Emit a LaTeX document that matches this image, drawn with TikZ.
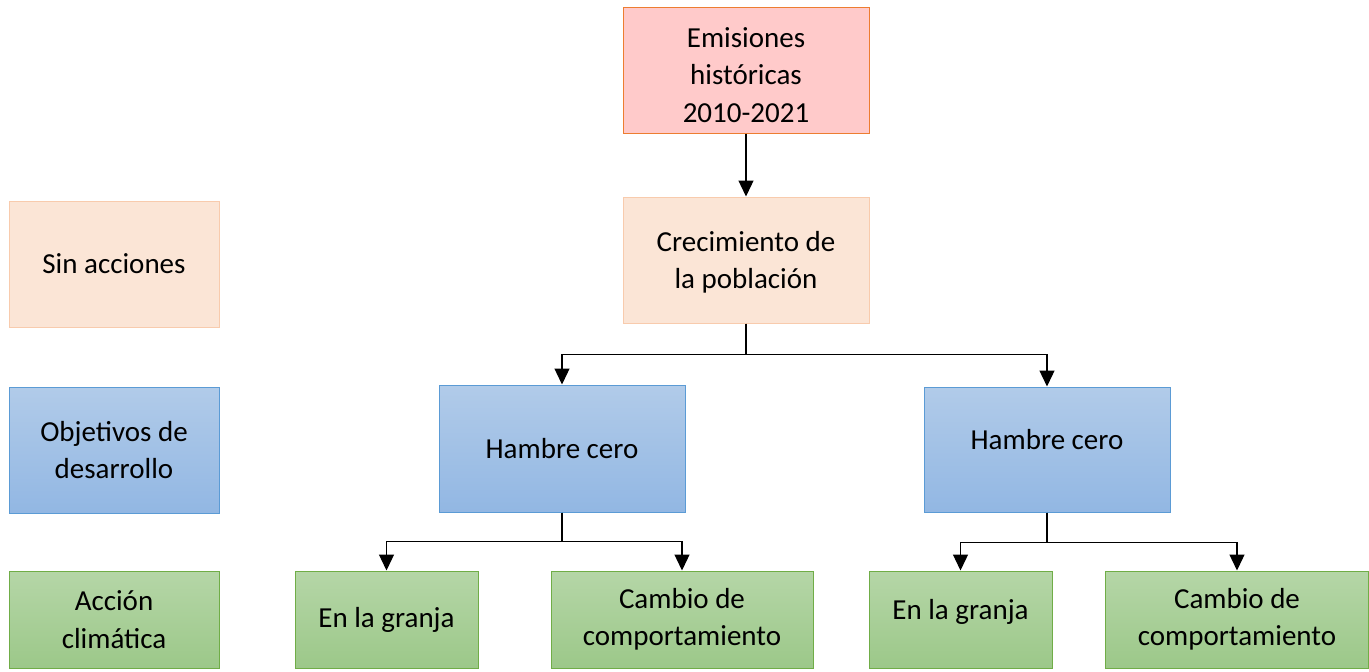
\documentclass[tikz,border=0pt]{standalone}
\usepackage{fontspec}
\setmainfont{Carlito}
\usetikzlibrary{arrows.meta}
\definecolor{pinkfill}{HTML}{FFCACA}
\definecolor{pinkline}{HTML}{ED7D31}
\definecolor{peachfill}{HTML}{FBE5D6}
\definecolor{peachline}{HTML}{F8CBAD}
\definecolor{bluetop}{HTML}{B1CBE9}
\definecolor{bluebot}{HTML}{92B7E3}
\definecolor{blueline}{HTML}{5B9BD5}
\definecolor{greentop}{HTML}{B5D6A7}
\definecolor{greenbot}{HTML}{9CC889}
\definecolor{greenline}{HTML}{70AD47}
\tikzset{
  box/.style={rectangle, inner sep=0pt, align=center, line width=1pt,
    font=\fontsize{29}{37.5}\selectfont, text=black},
  redbox/.style={box, fill=pinkfill, draw=pinkline},
  peachbox/.style={box, fill=peachfill, draw=peachline},
  bluebox/.style={box, top color=bluetop, bottom color=bluebot, draw=blueline},
  greenbox/.style={box, top color=greentop, bottom color=greenbot, draw=greenline},
  arr/.style={line width=1.3pt, -{Triangle[width=15pt,length=16pt]}},
  raised/.style={text height=21pt, text depth=22pt}
}
\begin{document}
\begin{tikzpicture}[x=1pt,y=-1pt]
\useasboundingbox (0,0) rectangle (1369,672);
\node[redbox, text height=105pt, minimum width=246pt, minimum height=126pt] (emis) at (746,70) {Emisiones\\históricas\\2010-2021};
\node[peachbox, text height=62pt, minimum width=246pt, minimum height=126pt] (crec) at (746,260) {Crecimiento de\\la población};
\node[peachbox, minimum width=210pt, minimum height=126pt] (sin) at (114,264) {Sin acciones};
\node[bluebox, minimum width=210pt, minimum height=126pt] (obj) at (114,450) {Objetivos de\\desarrollo};
\node[greenbox, minimum width=210pt, minimum height=97pt] (acc) at (114,619.5) {Acción\\climática};
\node[bluebox, minimum width=246pt, minimum height=127pt] (h1) at (562,448.5) {Hambre cero};
\node[bluebox, raised, minimum width=246pt, minimum height=125pt] (h2) at (1047,449.5) {Hambre cero};
\node[greenbox, minimum width=183pt, minimum height=97pt] (g1) at (386.5,619.5) {En la granja};
\node[greenbox, minimum width=262pt, minimum height=97pt] (c1) at (682,619.5) {Cambio de\\comportamiento};
\node[greenbox, raised, minimum width=183pt, minimum height=97pt] (g2) at (960.5,619.5) {En la granja};
\node[greenbox, minimum width=263pt, minimum height=97pt] (c2) at (1237,619.5) {Cambio de\\comportamiento};
\draw[arr] (emis) -- (crec);
\draw[arr] (crec.south) -- ++(0,31) -| (h1.north);
\draw[arr] (crec.south) -- ++(0,31) -| (h2.north);
\draw[arr] (h1.south) -- ++(0,29) -| (g1.north);
\draw[arr] (h1.south) -- ++(0,29) -| (c1.north);
\draw[arr] (h2.south) -- ++(0,30) -| (g2.north);
\draw[arr] (h2.south) -- ++(0,30) -| (c2.north);
\end{tikzpicture}
\end{document}
